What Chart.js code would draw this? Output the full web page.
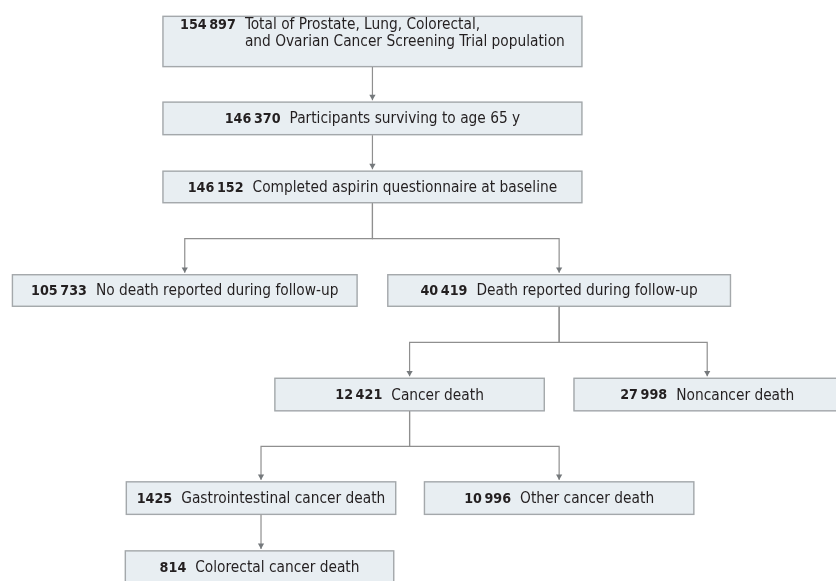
<!DOCTYPE html>
<html>
<head>
<meta charset="utf-8">
<script src="https://cdn.jsdelivr.net/npm/chart.js@4"></script>
<style>
html,body{margin:0;padding:0;background:#fff;}
#wrap{position:relative;width:836px;height:581px;overflow:hidden;}
</style>
</head>
<body>
<div id="wrap"><canvas id="c" width="836" height="581"></canvas></div>
<script>
// ---- data ----
const counts = [154897, 146370, 146152, 105733, 40419, 12421, 27998, 1425, 10996, 814];
const labels = [
  ["Total of Prostate, Lung, Colorectal,", "and Ovarian Cancer Screening Trial population"],
  ["Participants surviving to age 65 y"],
  ["Completed aspirin questionnaire at baseline"],
  ["No death reported during follow-up"],
  ["Death reported during follow-up"],
  ["Cancer death"],
  ["Noncancer death"],
  ["Gastrointestinal cancer death"],
  ["Other cancer death"],
  ["Colorectal cancer death"]
];
// parent -> children links
const links = [[0,[1]],[1,[2]],[2,[3,4]],[4,[5,6]],[5,[7,8]],[7,[9]]];

// ---- layout (chart units = pixels of the 836x581 frame) ----
const boxLeft   = [160,160,160,  8,387,273,575,123,424,122];
const boxRight  = [584,584,584,357,734,546,845,396,697,394];
const boxTop    = [ 12, 99,169,274,274,379,379,484,484,554];
const boxBottom = [ 64,133,202,307,307,413,413,518,518,590];

const FONT_FAMILY = '"DejaVu Sans Condensed", "DejaVu Sans", sans-serif';
const FONT_SIZE = 15.3;
const NUM_SIZE = 14.2;
const LINE_COLOR = '#8f8f8f';
const HEAD_COLOR = '#75797c';

function fmt(n){
  const s = String(n);
  if (s.length <= 4) return s;
  return s.replace(/\B(?=(\d{3})+(?!\d))/g, '\u2009');
}

const cx = i => (boxLeft[i] + boxRight[i]) / 2;

const datasets = [];
links.forEach(([p, kids]) => {
  kids.forEach(k => {
    const tip = boxTop[k] - 1.5;
    let pts, ax;
    if (kids.length === 1) {
      ax = cx(p);
      pts = [{x: ax, y: boxBottom[p]}, {x: ax, y: tip}];
    } else {
      ax = cx(k);
      const mid = (boxBottom[p] + boxTop[k]) / 2;
      pts = [{x: cx(p), y: boxBottom[p]}, {x: cx(p), y: mid}, {x: ax, y: mid}, {x: ax, y: tip}];
    }
    datasets.push({type:'line', data: pts, borderColor: LINE_COLOR, borderWidth: 1.2,
      pointRadius: 0, fill: false, tension: 0, order: 2});
    datasets.push({type:'scatter', data: [{x: ax, y: tip - 3.6}], pointStyle: 'triangle',
      rotation: 180, pointRadius: 3.6, backgroundColor: HEAD_COLOR, borderColor: HEAD_COLOR,
      borderWidth: 0, order: 1});
  });
});

const boxPlugin = {
  id: 'boxes',
  beforeDatasetsDraw(chart) {
    const {ctx, scales: {x, y}} = chart;
    ctx.save();
    for (let i = 0; i < counts.length; i++) {
      const x0 = x.getPixelForValue(boxLeft[i]), x1 = x.getPixelForValue(boxRight[i]);
      const y0 = y.getPixelForValue(boxTop[i]), y1 = y.getPixelForValue(boxBottom[i]);
      ctx.fillStyle = '#e8eef2';
      ctx.fillRect(x0, y0, x1 - x0, y1 - y0);
      ctx.strokeStyle = '#a4a8ab';
      ctx.lineWidth = 1.4;
      ctx.strokeRect(x0 + 0.5, y0 + 0.5, x1 - x0 - 1, y1 - y0 - 1);
    }
    ctx.restore();
  },
  afterDatasetsDraw(chart) {
    const {ctx, scales: {x, y}} = chart;
    ctx.save();
    ctx.textBaseline = 'middle';
    ctx.fillStyle = '#231f20';
    const bold = 'bold ' + NUM_SIZE + 'px ' + FONT_FAMILY;
    const reg = FONT_SIZE + 'px ' + FONT_FAMILY;
    const gap = 9, lh = 17.5;
    for (let i = 0; i < counts.length; i++) {
      const num = fmt(counts[i]);
      ctx.font = bold; const nw = ctx.measureText(num).width;
      ctx.font = reg;
      const lw = Math.max(...labels[i].map(t => ctx.measureText(t).width));
      const total = nw + gap + lw;
      const mx = (x.getPixelForValue(boxLeft[i]) + x.getPixelForValue(boxRight[i])) / 2;
      const my = (y.getPixelForValue(boxTop[i]) + y.getPixelForValue(Math.min(boxBottom[i], boxTop[i] + 34))) / 2;
      const n = labels[i].length;
      const startX = mx - total / 2;
      const firstY = my - (n - 1) * lh / 2 + 1;
      ctx.font = bold; ctx.fillText(num, startX, firstY);
      ctx.font = reg;
      labels[i].forEach((t, j) => ctx.fillText(t, startX + nw + gap, firstY + j * lh));
    }
    ctx.restore();
  }
};

new Chart(document.getElementById('c'), {
  type: 'scatter',
  data: {datasets},
  options: {
    responsive: false, animation: false, devicePixelRatio: 1,
    layout: {padding: 0},
    scales: {
      x: {type: 'linear', min: 0, max: 836, display: false},
      y: {type: 'linear', min: 0, max: 581, reverse: true, display: false}
    },
    plugins: {legend: {display: false}, tooltip: {enabled: false}}
  },
  plugins: [boxPlugin]
});
</script>
</body>
</html>
